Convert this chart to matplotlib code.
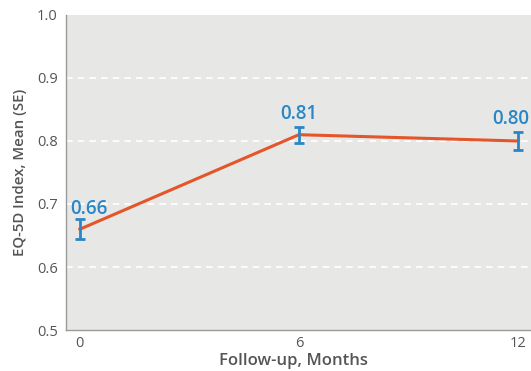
import matplotlib.pyplot as plt

# EQ-5D index over follow-up
months = [0, 6, 12]
mean_index = [0.66, 0.81, 0.80]
se_index = [0.016, 0.013, 0.015]
value_labels = ["0.66", "0.81", "0.80"]

plt.rcParams["font.family"] = ["Open Sans", "DejaVu Sans"]

fig = plt.figure(figsize=(5.31, 3.71), dpi=100)
ax = fig.add_axes([0.1243, 0.1105, 0.8757, 0.8491])
ax.set_facecolor("#e7e8e6")

ax.plot(months, mean_index, color="#e4552a", linewidth=2.2, zorder=3)
ax.errorbar(months, mean_index, yerr=se_index, fmt="none", ecolor="#2a86c6",
            elinewidth=2, capsize=3.8, capthick=2, zorder=4)

# value labels above each point (baseline offset)
offsets = [(6.5, 11), (0, 11), (-5, 12)]
for x, y, txt, off in zip(months, mean_index, value_labels, offsets):
    ax.annotate(txt, (x, y), xytext=off, textcoords="offset points",
                ha="center", va="baseline", color="#2a86c6",
                fontsize=13.5, fontweight=600)

ax.set_xlim(-0.38, 12.36)
ax.set_ylim(0.5, 1.0)
ax.set_xticks(months)
ax.set_yticks([0.5, 0.6, 0.7, 0.8, 0.9, 1.0])
ax.set_yticklabels(["0.5", "0.6", "0.7", "0.8", "0.9", "1.0"])
ax.tick_params(length=0, labelsize=10.5, labelcolor="#555555")
ax.tick_params(axis="x", pad=4)
ax.tick_params(axis="y", pad=6)

for y in [0.6, 0.7, 0.8, 0.9]:
    ax.axhline(y, color="white", linestyle=(0, (4, 3)), linewidth=1.2, zorder=1)

for side in ["top", "right"]:
    ax.spines[side].set_visible(False)
for side in ["left", "bottom"]:
    ax.spines[side].set_color("#9a9a9a")
    ax.spines[side].set_linewidth(1)

fig.text(0.552, 0.017, "Follow-up, Months", fontsize=12, fontweight=600,
         color="#555555", ha="center", va="baseline")
ax.set_ylabel("EQ-5D Index, Mean (SE)", fontsize=10.8, fontweight=600,
              color="#555555", labelpad=7)

fig.savefig("out.png", dpi=100)
